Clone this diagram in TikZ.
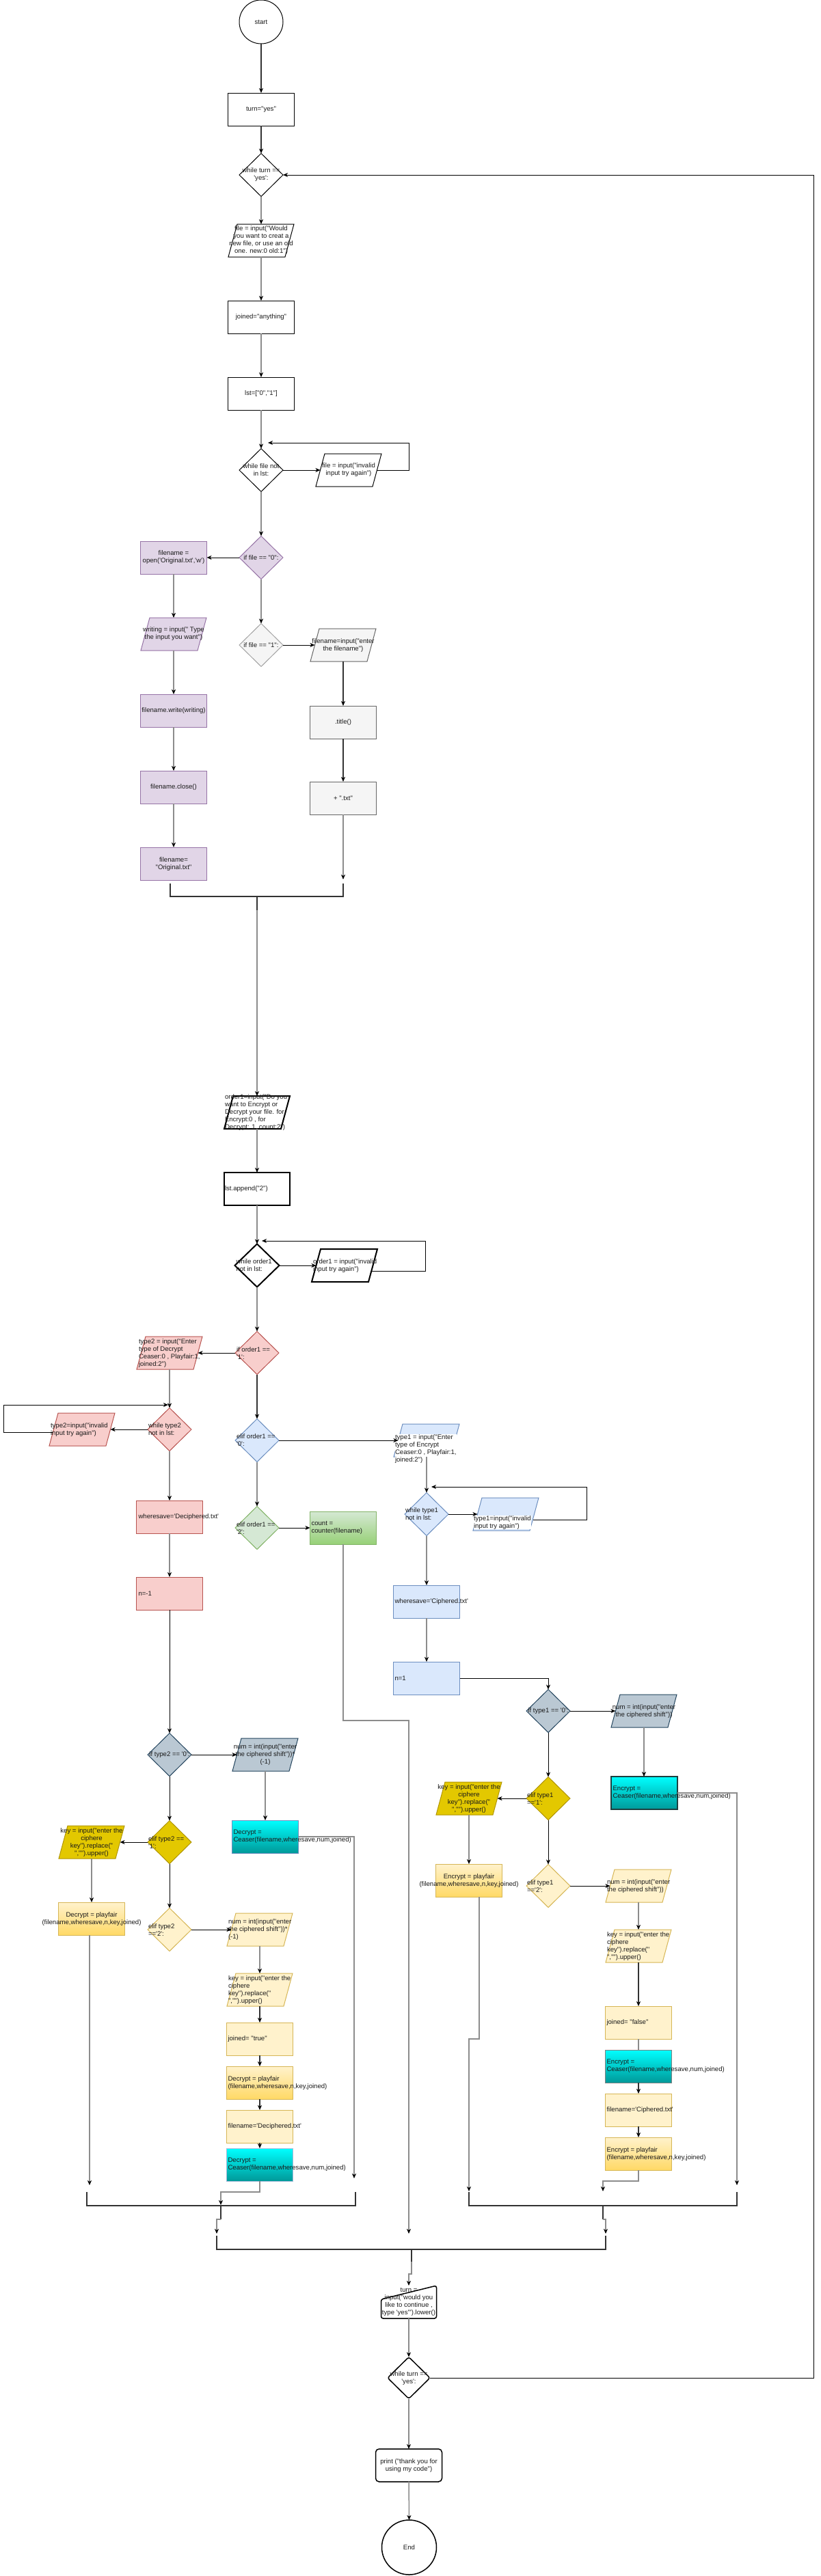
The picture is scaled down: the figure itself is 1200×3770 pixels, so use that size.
\documentclass[tikz,border=0pt]{standalone}
\usepackage{fontspec}
\newfontfamily\df{Liberation Sans}
\usetikzlibrary{shapes.geometric,arrows.meta,calc}
\newcommand\tf{\df\fontsize{9.6}{11}\selectfont}
\newcommand\mypara[4][1]{\filldraw[fill=#3,draw=#4,line width=#1pt,line join=miter] (#2.south west) -- ([xshift=13pt]#2.north west) -- (#2.north east) -- ([xshift=-13pt]#2.south east) -- cycle;}
\definecolor{purF}{HTML}{E1D5E7}\definecolor{purD}{HTML}{9673A6}
\definecolor{gryF}{HTML}{F5F5F5}\definecolor{gryD}{HTML}{666666}
\definecolor{redF}{HTML}{F8CECC}\definecolor{redD}{HTML}{B85450}
\definecolor{bluF}{HTML}{DAE8FC}\definecolor{bluD}{HTML}{6C8EBF}
\definecolor{grnF}{HTML}{D5E8D4}\definecolor{grnD}{HTML}{82B366}\definecolor{grnB}{HTML}{97D077}
\definecolor{slF}{HTML}{BAC8D3}\definecolor{slD}{HTML}{23445D}
\definecolor{dyF}{HTML}{E3C800}\definecolor{dyD}{HTML}{B09500}
\definecolor{lyF}{HTML}{FFF2CC}\definecolor{lyD}{HTML}{D6B656}\definecolor{lyB}{HTML}{FFD966}
\definecolor{cyT}{HTML}{00FFFF}\definecolor{cyB}{HTML}{009999}\definecolor{cyD}{HTML}{1D4040}
\definecolor{lg}{HTML}{8C8C8C}\definecolor{dk}{HTML}{333333}\definecolor{txtc}{HTML}{1A1A1A}
\tikzset{
 base/.style={inner sep=0pt,outer sep=0pt},
 bx/.style={base,rectangle,minimum width=97pt,minimum height=48pt,line width=1pt},
 pb/.style={base,rectangle,minimum width=96pt,minimum height=48pt},
 dm/.style={base,diamond,minimum width=64pt,minimum height=63pt,line width=1pt},
 tc/.style={base,font=\tf,align=center,text=txtc},
 tl/.style={base,font=\tf,align=left,anchor=west,text=txtc},
 tlw/.style={tl,fill=white},
 arr/.style={-{Stealth[length=7pt,width=6pt,inset=2pt,color=black]}},
 gl/.style={draw=lg,line width=1.5pt,arr},
 bl/.style={draw=black,line width=1pt,arr},
 dl/.style={draw=dk,line width=2pt,arr},
 gn/.style={draw=lg,line width=1.5pt},
 brk/.style={draw=dk,line width=2pt},
}
\begin{document}
\begin{tikzpicture}[x=1pt,y=-1pt]
\fill[white] (0,0) rectangle (1200,3770);
\useasboundingbox (0,0) rectangle (1200,3770);
% ---------------- top
\node[base,ellipse,draw=black,line width=1pt,minimum width=64pt,minimum height=64pt] (start) at (382,32) {};
\node[tc] (startt) at (start) {start};
\node[bx,draw=black] (tb) at (382,160) {};
\node[tc] (tbt) at (tb) {turn="yes"};
\node[dm,draw=black] (wt) at (382,256) {};
\node[tc] (wtt) at (wt) {while turn ==\\'yes':};
\node[pb] (fin) at (382,352) {};
\mypara{fin}{white}{black}
\node[tc] (fint) at (fin) {file = input("Would\\you want to creat a\\new file, or use an old\\one. new:0 old:1")};
\node[bx,draw=black] (jn) at (382,464) {};
\node[tc] (jnt) at (jn) {joined="anything"};
\node[bx,draw=black] (lst) at (382,576) {};
\node[tc] (lstt) at (lst) {lst=["0","1"]};
\node[dm,draw=black] (wf) at (382,688) {};
\node[tc] (wft) at (wf) {while file not\\in lst:};
\node[pb] (fi1) at (510,688) {};
\mypara{fi1}{white}{black}
\node[tc] (fi1t) at (fi1) {file = input("invalid\\input try again")};
% purple branch
\node[dm,fill=purF,draw=purD] (if0) at (382,816) {};
\node[tc] (if0t) at (if0) {if file == "0":};
\node[bx,fill=purF,draw=purD] (op) at (254,816) {};
\node[tc] (opt) at (op) {filename =\\open('Original.txt','w')};
\node[pb] (wr) at (254,928) {};
\mypara{wr}{purF}{purD}
\node[tc] (wrt) at (wr) {writing = input(" Type\\the input you want")};
\node[bx,fill=purF,draw=purD] (fw) at (254,1040) {};
\node[tc] (fwt) at (fw) {filename.write(writing)};
\node[bx,fill=purF,draw=purD] (fc) at (254,1152) {};
\node[tc] (fct) at (fc) {filename.close()};
\node[bx,fill=purF,draw=purD] (fo) at (254,1264) {};
\node[tc] (fot) at (fo) {filename=\\"Original.txt"};
% gray branch
\node[dm,fill=gryF,draw=gryD!60] (if1) at (382,944) {};
\node[tc] (if1t) at (if1) {if file == "1":};
\node[pb] (fn) at (502,944) {};
\mypara{fn}{gryF}{gryD}
\node[tc] (fnt) at (fn) {filename=input("enter\\the filename")};
\node[bx,fill=gryF,draw=gryD] (ti) at (502,1057) {};
\node[tc] (tit) at (ti) {.title()};
\node[bx,fill=gryF,draw=gryD] (tx) at (502,1168) {};
\node[tc] (txt) at (tx) {+ ".txt"};
% ---------------- order1
\node[pb] (o1) at (376,1628) {};
\mypara[2]{o1}{white}{black}
\node[tl] (o1t) at ([xshift=1pt]o1.west) {order1=input("Do you\\want to Encrypt or\\Decrypt your file. for\\Encrypt:0 , for\\Decrypt: 1, count:2")};
\node[bx,draw=black,line width=2pt,minimum width=96pt] (la) at (376,1740) {};
\node[tl] (lat) at ([xshift=1pt]la.west) {lst.append("2")};
\node[dm,draw=black,line width=2pt,minimum width=65pt] (wo) at (376,1852) {};
\node[tl] (wot) at ([xshift=2pt]wo.west) {while order1\\not in lst:};
\node[pb] (oi) at (504,1852) {};
\mypara[2]{oi}{white}{black}
\node[tl] (oit) at ([xshift=2pt]oi.west) {order1 = input("invalid\\input try again")};
\node[dm,fill=redF,draw=redD] (io1) at (376,1980) {};
\node[tl] (io1t) at ([xshift=2pt]io1.west) {if order1 ==\\'1':};
% decrypt (red)
\node[pb] (t2) at (248,1980) {};
\mypara{t2}{redF}{redD}
\node[tl] (t2t) at ([xshift=3pt]t2.west) {type2 = input("Enter\\type of Decrypt\\Ceaser:0 , Playfair:1,\\joined:2")};
\node[dm,fill=redF,draw=redD] (w2) at (248,2092) {};
\node[tl] (w2t) at ([xshift=1pt]w2.west) {while type2\\not in lst:};
\node[pb] (t2i) at (120,2092) {};
\mypara{t2i}{redF}{redD}
\node[tl] (t2it) at ([xshift=2pt]t2i.west) {type2=input("invalid\\input try again")};
\node[bx,fill=redF,draw=redD] (ws2) at (248,2220) {};
\node[tl] (ws2t) at ([xshift=3pt]ws2.west) {wheresave='Deciphered.txt'};
\node[bx,fill=redF,draw=redD] (nm) at (248,2332) {};
\node[tl] (nmt) at ([xshift=3pt]nm.west) {n=-1};
% elif order1
\node[dm,fill=bluF,draw=bluD] (eo0) at (376,2108) {};
\node[tl] (eo0t) at ([xshift=2pt]eo0.west) {elif order1 ==\\'0':};
\node[dm,fill=grnF,draw=grnD] (eo2) at (376,2236) {};
\node[tl] (eo2t) at ([xshift=2pt]eo2.west) {elif order1 ==\\'2':};
\node[bx,top color=grnF,bottom color=grnB,draw=grnD] (cnt) at (502,2236) {};
\node[tl] (cntt) at ([xshift=2pt]cnt.west) {count =\\counter(filename)};
% encrypt (blue)
\node[pb] (t1) at (624,2108) {};
\mypara{t1}{bluF}{bluD}
\node[tlw] (t1t) at ([xshift=2pt,yshift=-12pt]t1.west) {type1 = input("Enter\\type of Encrypt\\Ceaser:0 , Playfair:1,\\joined:2")};
\node[dm,fill=bluF,draw=bluD] (w1) at (624,2216) {};
\node[tl] (w1t) at ([xshift=1pt]w1.west) {while type1\\not in lst:};
\node[pb] (t1i) at (740,2216) {};
\mypara{t1i}{bluF}{bluD}
\node[tlw] (t1it) at ([xshift=1pt,yshift=-12pt]t1i.west) {type1=input("invalid\\input try again")};
\node[bx,fill=bluF,draw=bluD] (ws1) at (624,2344) {};
\node[tl] (ws1t) at ([xshift=2pt]ws1.west) {wheresave='Ciphered.txt'};
\node[bx,fill=bluF,draw=bluD] (n1) at (624,2456) {};
\node[tl] (n1t) at ([xshift=2pt]n1.west) {n=1};
% encrypt types
\node[dm,fill=slF,draw=slD] (e0) at (802,2504) {};
\node[tc] (e0t) at (e0) {if type1 == '0':};
\node[pb] (en) at (942,2504) {};
\mypara{en}{slF}{slD}
\node[tc] (ent) at (en) {num = int(input("enter\\the ciphered shift"))};
\node[bx,top color=cyT,bottom color=cyB,draw=cyD,line width=2pt] (ec) at (942,2624) {};
\node[tl] (ect) at ([xshift=3pt]ec.west) {Encrypt =\\Ceaser(filename,wheresave,num,joined)};
\node[dm,fill=dyF,draw=dyD] (e1) at (802,2632) {};
\node[tl] (e1t) at ([xshift=1pt]e1.west) {elif type1\\=='1':};
\node[pb] (ek) at (686,2632) {};
\mypara{ek}{dyF}{dyD}
\node[tc] (ekt) at (ek) {key = input("enter the\\ciphere\\key").replace("\\","").upper()};
\node[bx,top color=lyF,bottom color=lyB,draw=lyD] (ep) at (686,2752) {};
\node[tc] (ept) at (ep) {Encrypt = playfair\\\makebox[0pt]{(filename,wheresave,n,key,joined)}};
\node[dm,fill=lyF,draw=lyD] (e2) at (802,2760) {};
\node[tl] (e2t) at ([xshift=1pt]e2.west) {elif type1\\=='2':};
\node[pb] (en2) at (934,2760) {};
\mypara{en2}{lyF}{lyD}
\node[tl] (en2t) at ([xshift=2pt]en2.west) {num = int(input("enter\\the ciphered shift"))};
\node[pb] (ek2) at (934,2848) {};
\mypara{ek2}{lyF}{lyD}
\node[tl] (ek2t) at ([xshift=2pt]ek2.west) {key = input("enter the\\ciphere\\key").replace("\\","").upper()};
\node[bx,fill=lyF,draw=lyD] (ej) at (934,2960) {};
\node[tl] (ejt) at ([xshift=2pt]ej.west) {joined= "false"};
\node[bx,top color=cyT,bottom color=cyB,draw=gray] (ec2) at (934,3024) {};
\node[tl] (ec2t) at ([xshift=2pt]ec2.west) {Encrypt =\\Ceaser(filename,wheresave,num,joined)};
\node[bx,fill=lyF,draw=lyD] (ef) at (934,3088) {};
\node[tl] (eft) at ([xshift=2pt]ef.west) {filename='Ciphered.txt'};
\node[bx,top color=lyF,bottom color=lyB,draw=lyD] (ep2) at (934,3152) {};
\node[tl] (ep2t) at ([xshift=2pt]ep2.west) {Encrypt = playfair\\(filename,wheresave,n,key,joined)};
% decrypt types
\node[dm,fill=slF,draw=slD] (tp0) at (248,2568) {};
\node[tc] (tp0t) at (tp0) {if type2 == '0':};
\node[pb] (dn) at (388,2568) {};
\mypara{dn}{slF}{slD}
\node[tc] (dnt) at (dn) {num = int(input("enter\\the ciphered shift"))*\\(-1)};
\node[bx,top color=cyT,bottom color=cyB,draw=bluD] (dc) at (388,2688) {};
\node[tl] (dct) at ([xshift=2pt]dc.west) {Decrypt =\\Ceaser(filename,wheresave,num,joined)};
\node[dm,fill=dyF,draw=dyD] (tp1) at (248,2696) {};
\node[tl] (tp1t) at ([xshift=1pt]tp1.west) {elif type2 ==\\'1':};
\node[pb] (dk) at (134,2696) {};
\mypara{dk}{dyF}{dyD}
\node[tc] (dkt) at (dk) {key = input("enter the\\ciphere\\key").replace("\\","").upper()};
\node[bx,top color=lyF,bottom color=lyB,draw=lyD] (dp) at (134,2808) {};
\node[tc] (dpt) at (dp) {Decrypt = playfair\\\makebox[0pt]{(filename,wheresave,n,key,joined)}};
\node[dm,fill=lyF,draw=lyD] (tp2) at (248,2824) {};
\node[tl] (tp2t) at ([xshift=1pt]tp2.west) {elif type2\\=='2':};
\node[pb] (dn2) at (380,2824) {};
\mypara{dn2}{lyF}{lyD}
\node[tl] (dn2t) at ([xshift=2pt]dn2.west) {num = int(input("enter\\the ciphered shift"))*\\(-1)};
\node[pb] (dk2) at (380,2912) {};
\mypara{dk2}{lyF}{lyD}
\node[tl] (dk2t) at ([xshift=2pt]dk2.west) {key = input("enter the\\ciphere\\key").replace("\\","").upper()};
\node[bx,fill=lyF,draw=lyD] (dj) at (380,2984) {};
\node[tl] (djt) at ([xshift=2pt]dj.west) {joined= "true"};
\node[bx,top color=lyF,bottom color=lyB,draw=lyD] (dpp) at (380,3048) {};
\node[tl] (dppt) at ([xshift=2pt]dpp.west) {Decrypt = playfair\\(filename,wheresave,n,key,joined)};
\node[bx,fill=lyF,draw=lyD] (dfn) at (380,3112) {};
\node[tl] (dfnt) at ([xshift=2pt]dfn.west) {filename='Deciphered.txt'};
\node[bx,top color=cyT,bottom color=cyB,draw=bluD!60] (dc2) at (380,3168) {};
\node[tl] (dc2t) at ([xshift=2pt]dc2.west) {Decrypt =\\Ceaser(filename,wheresave,num,joined)};
% ---------------- bottom
\node[base,rectangle,minimum width=81pt,minimum height=48pt] (tin) at (598,3369) {};
\filldraw[fill=white,draw=black,line width=1.5pt,rounded corners=3pt] (tin.south west) -- ([yshift=-20pt]tin.north west) -- (tin.north east) -- (tin.south east) -- cycle;
\node[tc] (tint) at (tin) {turn =\\input("would you\\like to continue ,\\type 'yes'").lower()};
\node[dm,draw=black,line width=1.5pt,rounded corners=3pt,minimum width=62pt,minimum height=61pt] (wtb) at (598,3480) {};
\node[tc] (wtbt) at (wtb) {while turn ==\\'yes':};
\node[bx,draw=black,line width=1.5pt,rounded corners=5pt] (pr) at (598,3608) {};
\node[tc] (prt) at (pr) {print ("thank you for\\using my code")};
\node[base,circle,draw=black,line width=1.5pt,minimum size=80pt] (end) at (598.5,3728) {};
\node[tc] (endt) at (end) {End};
% ---------------- connectors
\draw[dl] (start.south) -- (tb.north);
\draw[dl] (tb.south) -- (wt.north);
\draw[gl] (wt.south) -- (fin.north);
\draw[gl] (fin.south) -- (jn.north);
\draw[gl] (jn.south) -- (lst.north);
\draw[gl] (lst.south) -- (wf.north);
\draw[bl] (wf.east) -- ([xshift=6.5pt]fi1.west);
\coordinate (c1) at (392,648);
\draw[bl] ([xshift=-6.5pt]fi1.east) -| (598,648) -- (c1);
\draw[gl] (wf.south) -- (if0.north);
\draw[bl] (if0.west) -- (op.east);
\draw[gl] (op.south) -- (wr.north);
\draw[gl] (wr.south) -- (fw.north);
\draw[gl] (fw.south) -- (fc.north);
\draw[gl] (fc.south) -- (fo.north);
\draw[gl] (if0.south) -- (if1.north);
\draw[bl] (if1.east) -- ([xshift=6.5pt]fn.west);
\draw[dl] (fn.south) -- (ti.north);
\draw[dl] (ti.south) -- (tx.north);
\draw[gl] (tx.south) -- (502,1287);
\draw[brk] (249,1293) -- (249,1312) -- (502,1312) -- (502,1293);
\draw[brk] (376,1312) -- (376,1332);
\draw[gl] (376,1332) -- (o1.north);
\draw[gl] (o1.south) -- (la.north);
\draw[gl] (la.south) -- (wo.north);
\draw[bl] (wo.east) -- ([xshift=6.5pt]oi.west);
\coordinate (c2) at (383,1816);
\draw[bl] ([xshift=-8.7pt,yshift=-8pt]oi.east) -| (622,1816) -- (c2);
\draw[gl] (wo.south) -- (io1.north);
\draw[bl] (io1.west) -- ([xshift=-6.5pt]t2.east);
\draw[gl] (t2.south) -- (w2.north);
\draw[bl] (w2.west) -- ([xshift=-6.5pt]t2i.east);
\coordinate (c3) at (246,2056);
\draw[bl] ([xshift=5.4pt,yshift=-4pt]t2i.west) -| (5,2056) -- (c3);
\draw[gl] (w2.south) -- (ws2.north);
\draw[gl] (ws2.south) -- (nm.north);
\draw[bl] (nm.south) -- (tp0.north);
\draw[dl] (io1.south) -- (eo0.north);
\draw[bl] (eo0.east) -- ([xshift=6.5pt]t1.west);
\draw[gl] (eo0.south) -- (eo2.north);
\draw[bl] (eo2.east) -- (cnt.west);
\draw[gl] (cnt.south) -- (502,2518) -- (598,2518) -- (598,3269);
\draw[gl] (t1.south) -- (w1.north);
\draw[bl] (w1.east) -- ([xshift=6.5pt]t1i.west);
\coordinate (c4) at (631,2176);
\draw[bl] ([xshift=-8.4pt,yshift=-8pt]t1i.east) -| (858,2176) -- (c4);
\draw[gl] (w1.south) -- (ws1.north);
\draw[gl] (ws1.south) -- (n1.north);
\draw[bl] (n1.east) -| (e0.north);
\draw[bl] (e0.east) -- ([xshift=6.5pt]en.west);
\draw[gl] (en.south) -- (ec.north);
\draw[gl] (ec.east) -| (1078,3198);
\draw[bl] (e0.south) -- (e1.north);
\draw[bl] (e1.west) -- ([xshift=-6.5pt]ek.east);
\draw[gl] (ek.south) -- (ep.north);
\draw[gl] ([xshift=15pt]ep.south) -- (701,2984) -- (686,2984) -- (686,3207);
\draw[bl] (e1.south) -- (e2.north);
\draw[bl] (e2.east) -- ([xshift=6.5pt]en2.west);
\draw[gl] (en2.south) -- (ek2.north);
\draw[dl] (ek2.south) -- (ej.north);
\draw[gn] (ej.south) -- (ec2.north);
\draw[dl] (ec2.south) -- (ef.north);
\draw[dl] (ef.south) -- (ep2.north);
\draw[gl] (ep2.south) |- (882,3192) -- (882,3207);
\draw[brk] (686,3208) -- (686,3228) -- (1078,3228) -- (1078,3208);
\draw[brk] (882,3228) -- (882,3248);
\draw[gl] (882,3248) -- (886,3248) -- (886,3269);
\draw[bl] (tp0.east) -- ([xshift=6.5pt]dn.west);
\draw[gl] (dn.south) -- (dc.north);
\draw[gl] (dc.east) -| (518,3188);
\draw[bl] (tp0.south) -- (tp1.north);
\draw[bl] (tp1.west) -- ([xshift=-6.5pt]dk.east);
\draw[gl] (dk.south) -- (dp.north);
\draw[gl] ([xshift=-3pt]dp.south) -- (131,3198);
\draw[bl] (tp1.south) -- (tp2.north);
\draw[bl] (tp2.east) -- ([xshift=6.5pt]dn2.west);
\draw[gl] (dn2.south) -- (dk2.north);
\draw[dl] (dk2.south) -- (dj.north);
\draw[dl] (dj.south) -- (dpp.north);
\draw[dl] (dpp.south) -- (dfn.north);
\draw[dl] (dfn.south) -- (dc2.north);
\draw[gl] (dc2.south) |- (323,3208) -- (323,3227);
\draw[brk] (127,3208) -- (127,3228) -- (520,3228) -- (520,3208);
\draw[brk] (323,3228) -- (323,3248);
\draw[gl] (323,3248) -- (317,3248) -- (317,3269);
\draw[brk] (317,3272) -- (317,3292) -- (886,3292) -- (886,3272);
\draw[brk] (602,3292) -- (602,3310);
\draw[gl] (602,3310) -- (602,3328) -- (598,3328) -- (tin.north);
\draw[gl] (tin.south) -- (wtb.north);
\draw[gl] (wtb.south) -- (pr.north);
\draw[gl] (pr.south) -- (end.north);
\draw[bl] (wtb.east) -- (1190,3480) -- (1190,256) -- (wt.east);
\end{tikzpicture}
\end{document}
